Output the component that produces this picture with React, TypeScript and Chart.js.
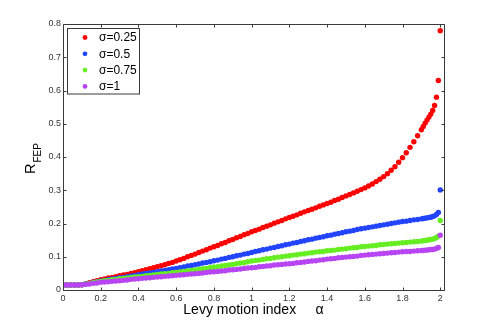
import React, { useEffect, useRef } from "react";
import { Chart, registerables } from "chart.js";

Chart.register(...registerables);

const alpha = [
  0, 0.02, 0.04, 0.06, 0.08, 0.1, 0.12, 0.14, 0.16, 0.18,
  0.2, 0.22, 0.24, 0.26, 0.28, 0.3, 0.32, 0.34, 0.36, 0.38,
  0.4, 0.42, 0.44, 0.46, 0.48, 0.5, 0.52, 0.54, 0.56, 0.58,
  0.6, 0.62, 0.64, 0.66, 0.68, 0.7, 0.72, 0.74, 0.76, 0.78,
  0.8, 0.82, 0.84, 0.86, 0.88, 0.9, 0.92, 0.94, 0.96, 0.98,
  1.0, 1.02, 1.04, 1.06, 1.08, 1.1, 1.12, 1.14, 1.16, 1.18,
  1.2, 1.22, 1.24, 1.26, 1.28, 1.3, 1.32, 1.34, 1.36, 1.38,
  1.4, 1.42, 1.44, 1.46, 1.48, 1.5, 1.52, 1.54, 1.56, 1.58,
  1.6, 1.62, 1.64, 1.66, 1.68, 1.7, 1.72, 1.74, 1.76, 1.78,
  1.8, 1.82, 1.84, 1.86, 1.88, 1.9, 1.91, 1.92, 1.93, 1.94,
  1.95, 1.96, 1.97, 1.98, 1.99, 2.0,
];

const sigma025 = [
  0.015, 0.015, 0.015, 0.015, 0.015, 0.016, 0.019, 0.022, 0.025, 0.028,
  0.031, 0.033, 0.036, 0.038, 0.040, 0.043, 0.045, 0.047, 0.050, 0.052,
  0.055, 0.058, 0.061, 0.064, 0.067, 0.070, 0.073, 0.076, 0.080, 0.083,
  0.087, 0.091, 0.095, 0.100, 0.104, 0.108, 0.113, 0.117, 0.121, 0.126,
  0.130, 0.134, 0.139, 0.143, 0.148, 0.152, 0.157, 0.161, 0.166, 0.170,
  0.175, 0.179, 0.183, 0.188, 0.192, 0.196, 0.201, 0.205, 0.209, 0.214,
  0.218, 0.222, 0.226, 0.231, 0.235, 0.239, 0.243, 0.247, 0.252, 0.256,
  0.260, 0.264, 0.269, 0.273, 0.278, 0.283, 0.287, 0.292, 0.297, 0.302,
  0.307, 0.313, 0.319, 0.326, 0.333, 0.341, 0.350, 0.360, 0.371, 0.384,
  0.398, 0.413, 0.429, 0.446, 0.464, 0.482, 0.492, 0.502, 0.511, 0.520,
  0.529, 0.540, 0.555, 0.580, 0.630, 0.780,
];

const sigma05 = [
  0.015, 0.015, 0.015, 0.015, 0.015, 0.016, 0.018, 0.020, 0.023, 0.025,
  0.027, 0.029, 0.031, 0.033, 0.035, 0.037, 0.038, 0.040, 0.042, 0.044,
  0.046, 0.048, 0.050, 0.051, 0.053, 0.055, 0.057, 0.059, 0.061, 0.063,
  0.065, 0.067, 0.069, 0.072, 0.074, 0.076, 0.078, 0.081, 0.083, 0.085,
  0.088, 0.090, 0.093, 0.095, 0.098, 0.100, 0.103, 0.105, 0.108, 0.110,
  0.113, 0.116, 0.118, 0.121, 0.123, 0.126, 0.128, 0.131, 0.133, 0.136,
  0.138, 0.141, 0.143, 0.146, 0.148, 0.151, 0.153, 0.156, 0.158, 0.160,
  0.163, 0.165, 0.168, 0.170, 0.172, 0.175, 0.177, 0.179, 0.182, 0.184,
  0.186, 0.188, 0.190, 0.192, 0.194, 0.196, 0.198, 0.200, 0.202, 0.204,
  0.206, 0.207, 0.209, 0.211, 0.212, 0.214, 0.215, 0.216, 0.217, 0.218,
  0.219, 0.221, 0.223, 0.227, 0.233, 0.301,
];

const sigma075 = [
  0.015, 0.015, 0.015, 0.015, 0.015, 0.016, 0.018, 0.020, 0.022, 0.024,
  0.026, 0.028, 0.029, 0.031, 0.032, 0.034, 0.035, 0.036, 0.038, 0.039,
  0.040, 0.041, 0.043, 0.044, 0.045, 0.047, 0.048, 0.049, 0.050, 0.052,
  0.053, 0.054, 0.056, 0.057, 0.059, 0.060, 0.062, 0.064, 0.065, 0.067,
  0.069, 0.070, 0.072, 0.074, 0.075, 0.077, 0.079, 0.081, 0.082, 0.085,
  0.087, 0.089, 0.090, 0.092, 0.094, 0.095, 0.097, 0.099, 0.100, 0.102,
  0.103, 0.105, 0.106, 0.108, 0.109, 0.111, 0.112, 0.114, 0.115, 0.116,
  0.118, 0.119, 0.120, 0.122, 0.123, 0.124, 0.126, 0.127, 0.128, 0.130,
  0.131, 0.132, 0.133, 0.134, 0.136, 0.137, 0.138, 0.139, 0.140, 0.141,
  0.142, 0.143, 0.144, 0.145, 0.146, 0.147, 0.148, 0.149, 0.150, 0.151,
  0.152, 0.153, 0.155, 0.158, 0.162, 0.209,
];

const sigma1 = [
  0.015, 0.015, 0.015, 0.015, 0.015, 0.016, 0.017, 0.018, 0.020, 0.021,
  0.023, 0.024, 0.025, 0.026, 0.027, 0.028, 0.029, 0.030, 0.032, 0.033,
  0.034, 0.035, 0.036, 0.037, 0.038, 0.039, 0.040, 0.041, 0.042, 0.043,
  0.044, 0.045, 0.046, 0.047, 0.048, 0.049, 0.050, 0.051, 0.053, 0.054,
  0.055, 0.056, 0.057, 0.058, 0.060, 0.061, 0.062, 0.063, 0.065, 0.066,
  0.067, 0.068, 0.070, 0.071, 0.072, 0.073, 0.075, 0.076, 0.077, 0.078,
  0.079, 0.080, 0.082, 0.083, 0.084, 0.086, 0.087, 0.088, 0.090, 0.091,
  0.093, 0.094, 0.095, 0.097, 0.098, 0.099, 0.100, 0.101, 0.102, 0.104,
  0.105, 0.106, 0.107, 0.108, 0.109, 0.110, 0.111, 0.112, 0.113, 0.114,
  0.115, 0.116, 0.116, 0.117, 0.118, 0.119, 0.119, 0.120, 0.120, 0.121,
  0.122, 0.122, 0.123, 0.125, 0.128, 0.165,
];

const seriesLabels = ["σ=0.25", "σ=0.5", "σ=0.75", "σ=1"];
const seriesColors = ["#ff0000", "#2244ff", "#66ee22", "#b844f4"];
const seriesValues = [sigma025, sigma05, sigma075, sigma1];

const xTicks = [0, 0.2, 0.4, 0.6, 0.8, 1, 1.2, 1.4, 1.6, 1.8, 2];
const yTicks = [0, 0.1, 0.2, 0.3, 0.4, 0.5, 0.6, 0.7, 0.8];

const FONT = "'Liberation Sans', Arial, Helvetica, sans-serif";
const FRAME = "#3a3a3a";

const framePlugin = {
  id: "matlabFrame",
  afterDraw(chart: any) {
    const { ctx, chartArea } = chart;
    const { left, right, top, bottom } = chartArea;
    const xs = chart.scales.x;
    const ys = chart.scales.y;
    ctx.save();
    ctx.strokeStyle = FRAME;
    ctx.lineWidth = 1;
    ctx.beginPath();
    const L = Math.round(left) + 0.5;
    const R = Math.round(right) + 0.5;
    const T = Math.round(top) + 0.5;
    const B = Math.round(bottom) + 0.5;
    ctx.rect(L, T, R - L, B - T);
    const tl = 3;
    xTicks.forEach((v) => {
      const px = Math.round(xs.getPixelForValue(v)) + 0.5;
      ctx.moveTo(px, B);
      ctx.lineTo(px, B - tl);
      ctx.moveTo(px, T);
      ctx.lineTo(px, T + tl);
    });
    yTicks.forEach((v) => {
      const py = Math.round(ys.getPixelForValue(v)) + 0.5;
      ctx.moveTo(L, py);
      ctx.lineTo(L + tl, py);
      ctx.moveTo(R, py);
      ctx.lineTo(R - tl, py);
    });
    ctx.stroke();

    // y-axis title R with subscript FEP
    const cy = (top + bottom) / 2;
    ctx.fillStyle = "#000";
    ctx.translate(34.5, cy + 17);
    ctx.rotate(-Math.PI / 2);
    ctx.textBaseline = "alphabetic";
    ctx.textAlign = "left";
    ctx.font = `14.5px ${FONT}`;
    ctx.fillText("R", 0, 0);
    const wR = ctx.measureText("R").width;
    ctx.font = `10px ${FONT}`;
    ctx.fillText("FEP", wR + 1, 6.5);
    ctx.restore();

    // legend
    ctx.save();
    const bx = 67.5, by = 28.5, bw = 72, bh = 65.5;
    ctx.fillStyle = "#fff";
    ctx.fillRect(bx, by, bw, bh);
    ctx.strokeStyle = FRAME;
    ctx.lineWidth = 1;
    ctx.strokeRect(bx, by, bw, bh);
    ctx.font = `12px ${FONT}`;
    ctx.textBaseline = "middle";
    ctx.textAlign = "left";
    chart.data.datasets.forEach((ds: any, i: number) => {
      const ry = 37.5 + i * 16.3;
      ctx.fillStyle = ds.backgroundColor;
      ctx.beginPath();
      ctx.arc(85, ry, 2.4, 0, Math.PI * 2);
      ctx.fill();
      ctx.fillStyle = "#000";
      ctx.fillText(ds.label, 99, ry + 0.5);
    });
    ctx.restore();
  },
};

export default function App() {
  const ref = useRef<HTMLCanvasElement | null>(null);

  useEffect(() => {
    if (!ref.current) return;
    const datasets = seriesValues.map((vals, i) => ({
      label: seriesLabels[i],
      data: vals.map((v, j) => ({ x: alpha[j], y: v })),
      backgroundColor: seriesColors[i],
      borderColor: seriesColors[i],
      pointRadius: 2.7,
      pointBorderWidth: 0,
      showLine: false,
      order: 4 - i,
    }));
    const chart = new Chart(ref.current, {
      type: "scatter",
      data: { datasets },
      options: {
        animation: false,
        responsive: false,
        events: [],
        layout: { padding: { left: 0, right: 47, top: 24, bottom: 0 } },
        plugins: {
          legend: { display: false },
          tooltip: { enabled: false },
          title: { display: false },
        },
        scales: {
          x: {
            type: "linear",
            min: 0,
            max: 2.02,
            grid: { display: false, drawTicks: false },
            border: { display: false },
            afterBuildTicks: (scale: any) => {
              scale.ticks = xTicks.map((v) => ({ value: v }));
            },
            afterFit: (scale: any) => {
              scale.height = 37;
            },
            ticks: {
              padding: 3,
              color: "#333",
              font: { family: FONT, size: 9 },
              maxRotation: 0,
              autoSkip: false,
              callback: (v: any) => String(v),
            },
            title: {
              display: true,
              text: "Levy motion index     α",
              color: "#000",
              font: { family: FONT, size: 14 },
              padding: { top: 0, bottom: 8 },
            },
          },
          y: {
            type: "linear",
            min: 0,
            max: 0.8,
            grid: { display: false, drawTicks: false },
            border: { display: false },
            afterBuildTicks: (scale: any) => {
              scale.ticks = yTicks.map((v) => ({ value: v }));
            },
            afterFit: (scale: any) => {
              scale.width = 63;
            },
            ticks: {
              padding: 2,
              color: "#333",
              font: { family: FONT, size: 9 },
              autoSkip: false,
              callback: (v: any) => String(v),
            },
          },
        },
      },
      plugins: [framePlugin],
    });
    return () => chart.destroy();
  }, []);

  return (
    <div style={{ position: "fixed", left: 0, top: 0, width: 491, height: 327, background: "#fff" }}>
      <canvas ref={ref} width={491} height={327} style={{ display: "block" }} />
    </div>
  );
}
